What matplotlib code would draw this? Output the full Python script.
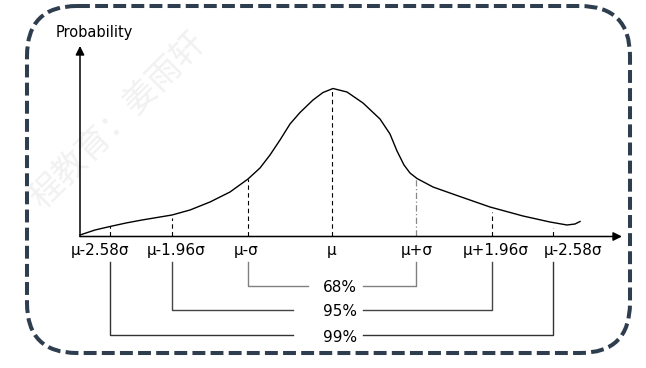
import matplotlib
matplotlib.use('Agg')
import matplotlib.pyplot as plt
from matplotlib.patches import FancyBboxPatch

# Schematic values (pixel-like units, y grows downward)
sigma_labels = ['μ-2.58σ', 'μ-1.96σ', 'μ-σ', 'μ', 'μ+σ', 'μ+1.96σ', 'μ-2.58σ']
sigma_x = [110, 172, 248, 332, 416, 492, 553]
label_x = [100, 176, 246, 332, 417, 496, 573]
guide_top = [226, 218, 179, 89, 178, 212, 228]

curve_x = [80, 95, 110, 126, 142, 157, 172, 190, 210, 230, 248, 260, 270, 280, 290,
           300, 313, 323, 333, 347, 363, 380, 390, 397, 404, 410, 417, 433, 457, 490,
           523, 550, 567, 575, 580]
curve_y = [235, 230, 226.5, 223, 220, 217.5, 215, 210, 202, 192, 179, 168, 155, 140, 124,
           112.5, 100, 92.5, 88.5, 92, 103, 119, 134, 151, 165, 173, 178.5, 187, 195.5, 207,
           216, 222, 225, 224, 221.5]

interval_labels = ['68%', '95%', '99%']
interval_pairs = [(2, 4), (1, 5), (0, 6)]
interval_y = [286, 310, 335]
interval_colors = ['#808080', '#444444', '#333333']

W, H = 646, 368
fig = plt.figure(figsize=(W / 100, H / 100), dpi=100)
ax = fig.add_axes([0, 0, 1, 1])
ax.set_xlim(0, W)
ax.set_ylim(H, 0)
ax.axis('off')

# faint watermark
ax.text(118, 120, '程教育：姜雨轩', fontsize=24, color='#f1f1f1', rotation=45,
        rotation_mode='anchor', ha='center', va='center', zorder=0,
        family=['Noto Sans CJK SC', 'DejaVu Sans'])

# dashed rounded frame
frame = FancyBboxPatch((27, 6), 603, 347, boxstyle='round,pad=0,rounding_size=50',
                       fill=False, edgecolor='#2f3e4f', linewidth=2.9,
                       linestyle=(0, (3.2, 1.3)), zorder=1)
ax.add_patch(frame)

# axes arrows
arrow = dict(arrowstyle='-|>', color='black', lw=1.1, mutation_scale=13, shrinkA=0, shrinkB=0)
ax.annotate('', xy=(80, 46), xytext=(80, 236.5), arrowprops=arrow, zorder=3)
ax.annotate('', xy=(622, 236.5), xytext=(80, 236.5), arrowprops=arrow, zorder=3)
ax.text(56, 32, 'Probability', fontsize=10.5, ha='left', va='center')

# curve
ax.plot(curve_x, curve_y, color='black', lw=1.0, zorder=3, solid_joinstyle='round')

# guide lines and labels
for x, lx, top, lab in zip(sigma_x, label_x, guide_top, sigma_labels):
    if lab == 'μ+σ':
        ax.plot([x, x], [236, top], color='#888888', lw=0.9, linestyle=(0, (5, 2, 1, 2)))
    else:
        ax.plot([x, x], [236, top], color='black', lw=0.8, linestyle=(0, (4, 3)))
    ax.text(lx, 251, lab, fontsize=11, ha='center', va='center')

# interval brackets
for lab, (a, b), y, c in zip(interval_labels, interval_pairs, interval_y, interval_colors):
    left_end = 308 if lab == '68%' else 293
    ax.plot([sigma_x[a], sigma_x[a], left_end], [262, y, y], color=c, lw=1.0)
    ax.plot([363, sigma_x[b], sigma_x[b]], [y, y, 262], color=c, lw=1.0)
    ax.text(340, y + 2, lab, fontsize=11, ha='center', va='center')

fig.savefig('out.png', dpi=100)
